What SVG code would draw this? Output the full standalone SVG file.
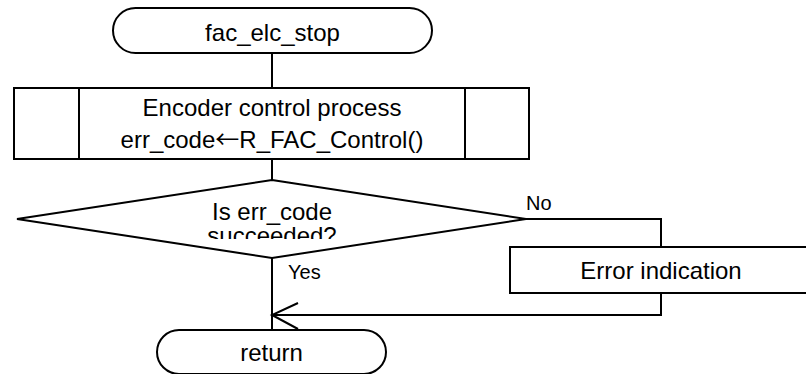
<svg xmlns="http://www.w3.org/2000/svg" width="806" height="374" viewBox="0 0 806 374">
<style>
.s{fill:#fff;stroke:#000;stroke-width:2}
.l{fill:none;stroke:#000;stroke-width:2}
.t{font-family:"Liberation Sans",Arial,sans-serif;font-size:24px;fill:#000;text-anchor:middle}
.lb{font-family:"Liberation Sans",Arial,sans-serif;font-size:20px;fill:#000}
.ar{font-family:"Noto Sans CJK JP","Liberation Sans",sans-serif}
</style>
<defs>
<clipPath id="dc"><rect x="150" y="195" width="250" height="44"/></clipPath>
</defs>
<rect width="806" height="374" fill="#fff"/>
<g id="connectors">
<line class="l" x1="272" y1="53" x2="272" y2="88"/>
<line class="l" x1="272" y1="159" x2="272" y2="180"/>
<line class="l" x1="272" y1="258" x2="272" y2="330"/>
<polyline class="l" points="526,219 661,219 661,247"/>
<polyline class="l" points="661,293 661,315 272,315"/>
<polyline class="l" points="298,303 272,315 298,329"/>
<text class="lb" x="526" y="210">No</text>
<text class="lb" x="288" y="279">Yes</text>
</g>
<g id="start">
<rect class="s" x="113" y="8" width="319" height="45" rx="22.5" ry="22.5"/>
<text class="t" x="272.5" y="41">fac_elc_stop</text>
</g>
<g id="process">
<rect class="s" x="14" y="88" width="515" height="71"/>
<line class="l" x1="79" y1="88" x2="79" y2="159"/>
<line class="l" x1="465" y1="88" x2="465" y2="159"/>
<text class="t" x="272" y="116">Encoder control process</text>
<text class="t" x="272" y="148">err_code<tspan class="ar">←</tspan>R_FAC_Control()</text>
</g>
<g id="decision">
<polygon class="s" points="272,180 526,219 272,258 17,219"/>
<g clip-path="url(#dc)">
<text class="t" x="272" y="220">Is err_code</text>
<text class="t" x="272" y="244">succeeded?</text>
</g>
</g>
<g id="error">
<rect class="s" x="510" y="247" width="302" height="46"/>
<text class="t" x="661" y="279">Error indication</text>
</g>
<g id="end">
<rect class="s" x="157" y="330" width="229" height="44" rx="22" ry="22"/>
<text class="t" x="271.5" y="361">return</text>
</g>
</svg>
